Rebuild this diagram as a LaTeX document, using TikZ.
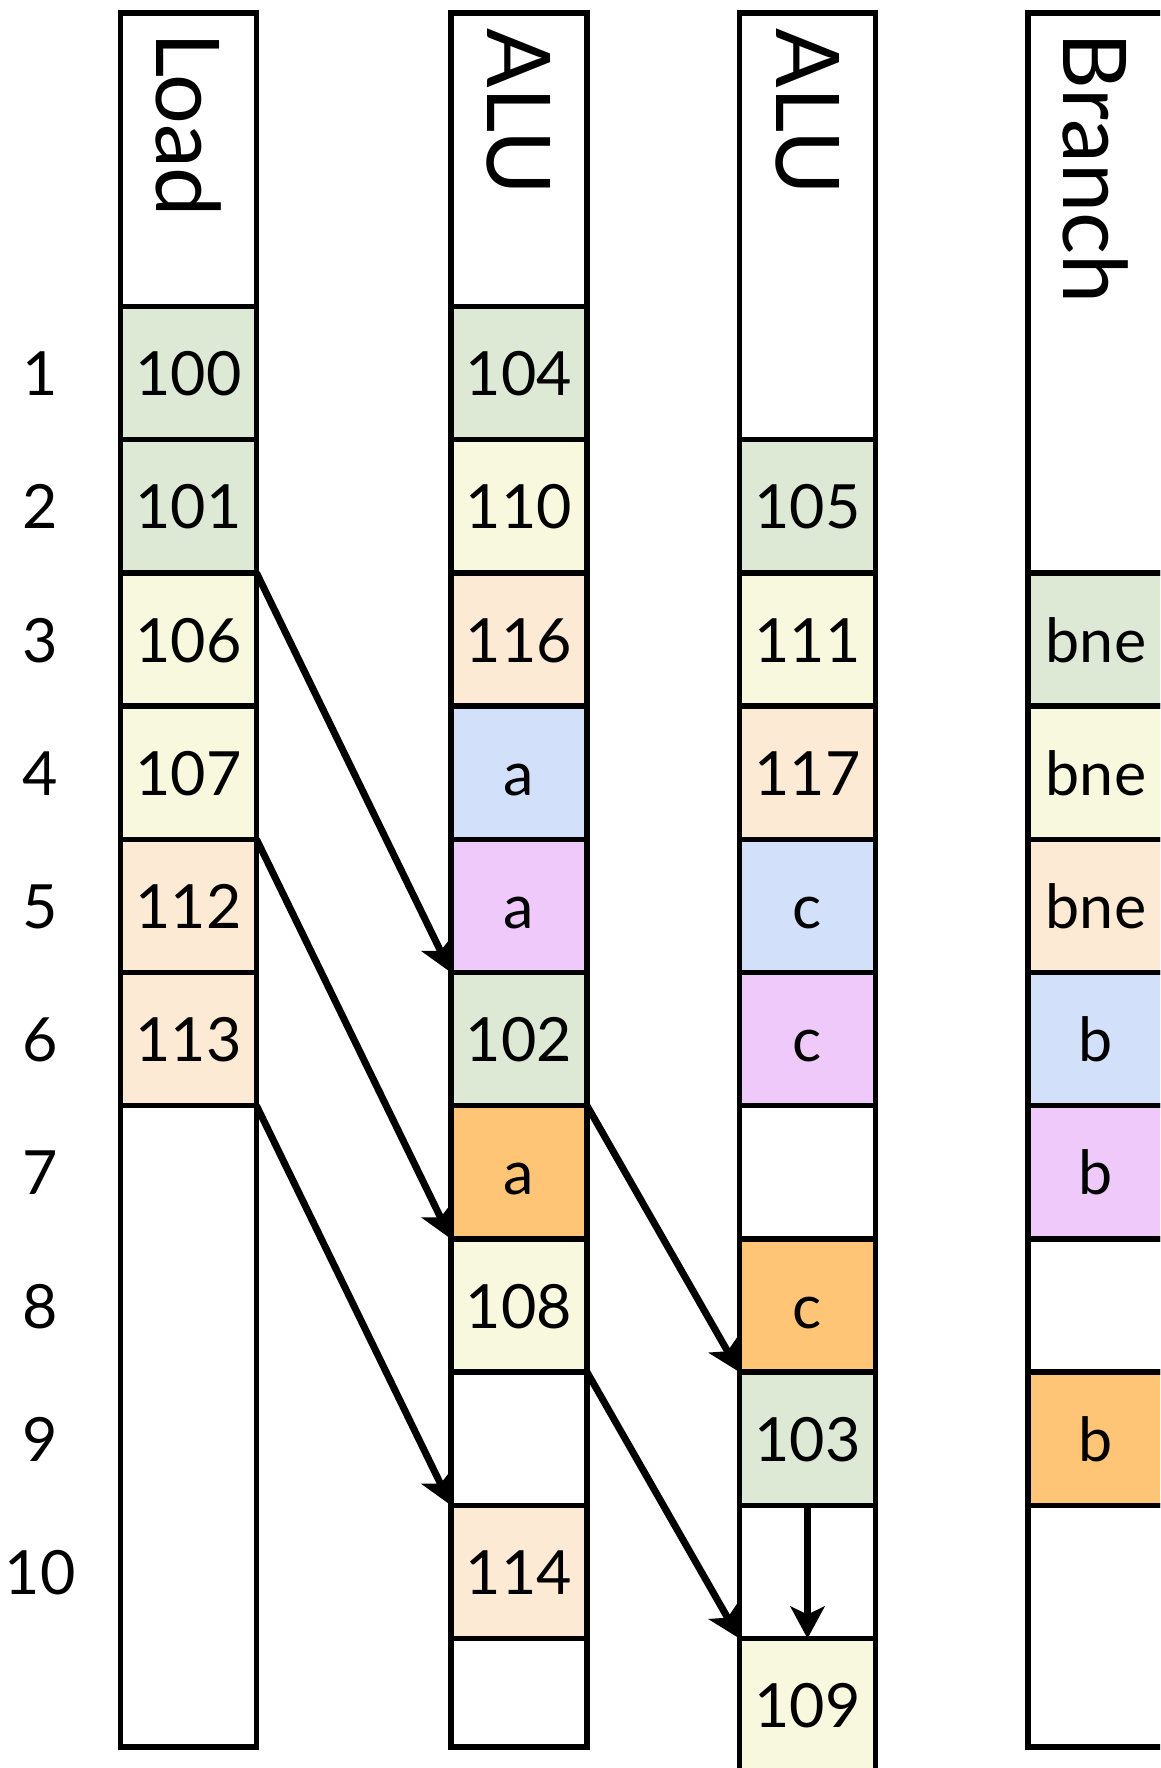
\documentclass[tikz,border=0pt]{standalone}
\usepackage{fontspec}
\setmainfont{Lato}
\usetikzlibrary{arrows.meta}
\definecolor{cgreen}{RGB}{221,233,212}
\definecolor{cyellow}{RGB}{247,248,222}
\definecolor{cpeach}{RGB}{253,234,212}
\definecolor{cblue}{RGB}{211,224,250}
\definecolor{cpurple}{RGB}{239,201,250}
\definecolor{corange}{RGB}{254,197,119}
\begin{document}
\begin{tikzpicture}[x=1pt,y=-1pt,
  colbox/.style={draw=black, line width=5.5pt, minimum width=136pt, inner sep=0pt, outer sep=0pt, anchor=north},
  cellbox/.style={colbox, minimum height=133.2pt, text height=45pt, text depth=0pt, font=\fontsize{61}{61}\selectfont},
  headtxt/.style={rotate=-90, anchor=west, inner sep=0pt, font=\fontsize{88}{88}\selectfont},
  rowlbl/.style={inner sep=0pt, text height=45pt, text depth=0pt, font=\fontsize{61}{61}\selectfont},
  arr/.style={line width=7pt, -{Stealth[length=32pt,width=34pt,inset=8pt]}},
]
\useasboundingbox (0,0) rectangle (1160,1768);
\clip (0,0) rectangle (1160,1768);
\fill[white] (0,0) rectangle (1160,1768);

% row labels
\node[rowlbl] (n1) at (40,373.1) {1};
\node[rowlbl] (n2) at (40,506.3) {2};
\node[rowlbl] (n3) at (40,639.5) {3};
\node[rowlbl] (n4) at (40,772.7) {4};
\node[rowlbl] (n5) at (40,905.9) {5};
\node[rowlbl] (n6) at (40,1039.1) {6};
\node[rowlbl] (n7) at (40,1172.3) {7};
\node[rowlbl] (n8) at (40,1305.5) {8};
\node[rowlbl] (n9) at (40,1438.7) {9};
\node[rowlbl] (n10) at (40,1571.9) {10};

% Load column
\node[colbox, minimum height=293.5pt] (Lh) at (188.5,13) {};
\node[headtxt] (Lt) at (188.5,32) {Load};
\node[cellbox, fill=cgreen]  (L1) at (188.5,306.5) {100};
\node[cellbox, fill=cgreen]  (L2) at (188.5,439.7) {101};
\node[cellbox, fill=cyellow] (L3) at (188.5,572.9) {106};
\node[cellbox, fill=cyellow] (L4) at (188.5,706.1) {107};
\node[cellbox, fill=cpeach]  (L5) at (188.5,839.3) {112};
\node[cellbox, fill=cpeach]  (L6) at (188.5,972.5) {113};
\node[colbox, fill=white, minimum height=641.3pt] (Lr) at (188.5,1105.7) {};

% ALU column 1
\node[colbox, minimum height=293.5pt] (Ah) at (519,13) {};
\node[headtxt] (At) at (519,28) {ALU};
\node[cellbox, fill=cgreen]   (A1) at (519,306.5) {104};
\node[cellbox, fill=cyellow]  (A2) at (519,439.7) {110};
\node[cellbox, fill=cpeach]   (A3) at (519,572.9) {116};
\node[cellbox, fill=cblue]    (A4) at (519,706.1) {a};
\node[cellbox, fill=cpurple]  (A5) at (519,839.3) {a};
\node[cellbox, fill=cgreen]   (A6) at (519,972.5) {102};
\node[cellbox, fill=corange]  (A7) at (519,1105.7) {a};
\node[cellbox, fill=cyellow]  (A8) at (519,1238.9) {108};
\node[cellbox, fill=white]    (A9) at (519,1372.1) {};
\node[cellbox, fill=cpeach]   (A10) at (519,1505.3) {114};
\node[colbox, fill=white, minimum height=108.5pt] (A11) at (519,1638.5) {};

% ALU column 2
\node[colbox, minimum height=426.7pt] (Bh) at (807.5,13) {};
\node[headtxt] (Bt) at (807.5,28) {ALU};
\node[cellbox, fill=cgreen]   (B2) at (807.5,439.7) {105};
\node[cellbox, fill=cyellow]  (B3) at (807.5,572.9) {111};
\node[cellbox, fill=cpeach]   (B4) at (807.5,706.1) {117};
\node[cellbox, fill=cblue]    (B5) at (807.5,839.3) {c};
\node[cellbox, fill=cpurple]  (B6) at (807.5,972.5) {c};
\node[cellbox, fill=white]    (B7) at (807.5,1105.7) {};
\node[cellbox, fill=corange]  (B8) at (807.5,1238.9) {c};
\node[cellbox, fill=cgreen]   (B9) at (807.5,1372.1) {103};
\node[cellbox, fill=white]    (B10) at (807.5,1505.3) {};
\node[cellbox, fill=cyellow]  (B11) at (807.5,1638.5) {109};

% Branch column
\node[colbox, minimum height=559.9pt] (Rh) at (1096,13) {};
\node[headtxt] (Rt) at (1096,32) {Branch};
\node[cellbox, fill=cgreen]   (R3) at (1096,572.9) {bne};
\node[cellbox, fill=cyellow]  (R4) at (1096,706.1) {bne};
\node[cellbox, fill=cpeach]   (R5) at (1096,839.3) {bne};
\node[cellbox, fill=cblue]    (R6) at (1096,972.5) {b};
\node[cellbox, fill=cpurple]  (R7) at (1096,1105.7) {b};
\node[cellbox, fill=white]    (R8) at (1096,1238.9) {};
\node[cellbox, fill=corange]  (R9) at (1096,1372.1) {b};
\node[colbox, fill=white, minimum height=241.7pt] (R10) at (1096,1505.3) {};

% arrows
\draw[arr] (L3.north east) -- (A6.north west);
\draw[arr] (L5.north east) -- (A8.north west);
\draw[arr] (L6.south east) -- (A10.north west);
\draw[arr] (A6.south east) -- (B9.north west);
\draw[arr] (A8.south east) -- (B11.north west);
\draw[arr] (B9.south) -- (B11.north);
\end{tikzpicture}
\end{document}
